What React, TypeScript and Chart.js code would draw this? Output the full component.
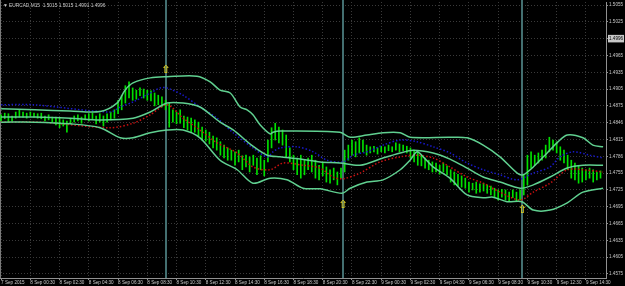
import React, { useEffect, useRef } from 'react';
import { Chart, registerables } from 'chart.js';
Chart.register(...registerables);

const HEADER = '\u25BC EURCAD,M15  1.5015 1.5015 1.4991 1.4996';

const TIME_LABELS = ['7 Sep 2015', '8 Sep 00:30', '8 Sep 02:30', '8 Sep 04:30', '8 Sep 06:30', '8 Sep 08:30', '8 Sep 10:30', '8 Sep 12:30', '8 Sep 14:30', '8 Sep 16:30', '8 Sep 18:30', '8 Sep 20:30', '8 Sep 22:30', '9 Sep 00:30', '9 Sep 02:30', '9 Sep 04:30', '9 Sep 06:30', '9 Sep 08:30', '9 Sep 10:30', '9 Sep 12:30', '9 Sep 14:30'];
const BARS_PER_LABEL = 8;

const PRICE_TICKS = [1.5055, 1.5025, 1.4995, 1.4965, 1.4935, 1.4905, 1.4875, 1.4845, 1.4815, 1.4785, 1.4755, 1.4725, 1.4695, 1.4665, 1.4635, 1.4605, 1.4575];
const PRICE_LABELS = ['1.5055', '1.5025', '1.4996', '1.4965', '1.4935', '1.4905', '1.4875', '1.4846', '1.4815', '1.4786', '1.4755', '1.4725', '1.4695', '1.4665', '1.4635', '1.4605', '1.4575'];
const CURRENT_PRICE_INDEX = 2;
const Y_MIN = 1.45678;
const Y_MAX = 1.50604;
const X_MIN = -0.3;
const X_MAX = 165.5;

const BAR_HIGH = [
  1.4859, 1.4862, 1.4861, 1.4857, 1.4864, 1.4868, 1.4864, 1.4862, 1.4864, 1.4862,
  1.4861, 1.4862, 1.4857, 1.4859, 1.4855, 1.4855, 1.4853, 1.4850, 1.4848, 1.4853,
  1.4857, 1.4859, 1.4855, 1.4859, 1.4861, 1.4862, 1.4857, 1.4861, 1.4857, 1.4861,
  1.4864, 1.4868, 1.4885, 1.4894, 1.4911, 1.4918, 1.4907, 1.4903, 1.4907, 1.4905,
  1.4903, 1.4902, 1.4898, 1.4894, 1.4891, 1.4885, 1.4880, 1.4868, 1.4864, 1.4868,
  1.4857, 1.4855, 1.4853, 1.4850, 1.4846, 1.4837, 1.4832, 1.4828, 1.4821, 1.4818,
  1.4811, 1.4805, 1.4800, 1.4796, 1.4793, 1.4796, 1.4786, 1.4787, 1.4784, 1.4787,
  1.4782, 1.4786, 1.4778, 1.4814, 1.4836, 1.4844, 1.4837, 1.4832, 1.4823, 1.4800,
  1.4787, 1.4782, 1.4787, 1.4778, 1.4782, 1.4787, 1.4778, 1.4769, 1.4773, 1.4766,
  1.4761, 1.4764, 1.4757, 1.4764, 1.4796, 1.4805, 1.4814, 1.4811, 1.4818, 1.4814,
  1.4805, 1.4802, 1.4803, 1.4800, 1.4803, 1.4802, 1.4805, 1.4802, 1.4809, 1.4807,
  1.4805, 1.4803, 1.4800, 1.4796, 1.4793, 1.4787, 1.4782, 1.4778, 1.4775, 1.4773,
  1.4769, 1.4773, 1.4768, 1.4761, 1.4757, 1.4753, 1.4750, 1.4746, 1.4739, 1.4737,
  1.4739, 1.4736, 1.4737, 1.4734, 1.4732, 1.4728, 1.4725, 1.4726, 1.4725, 1.4721,
  1.4725, 1.4721, 1.4725, 1.4752, 1.4787, 1.4793, 1.4787, 1.4791, 1.4796, 1.4805,
  1.4819, 1.4814, 1.4811, 1.4802, 1.4796, 1.4787, 1.4778, 1.4773, 1.4769, 1.4764,
  1.4761, 1.4764, 1.4761, 1.4757, 1.4759
];
const BAR_LOW = [
  1.4848, 1.4852, 1.4846, 1.4848, 1.4853, 1.4855, 1.4855, 1.4853, 1.4857, 1.4855,
  1.4853, 1.4852, 1.4848, 1.4850, 1.4846, 1.4841, 1.4836, 1.4839, 1.4828, 1.4843,
  1.4846, 1.4848, 1.4844, 1.4850, 1.4848, 1.4852, 1.4843, 1.4846, 1.4839, 1.4846,
  1.4850, 1.4853, 1.4861, 1.4868, 1.4880, 1.4889, 1.4885, 1.4887, 1.4893, 1.4889,
  1.4885, 1.4884, 1.4875, 1.4877, 1.4873, 1.4868, 1.4837, 1.4846, 1.4843, 1.4844,
  1.4836, 1.4832, 1.4827, 1.4828, 1.4821, 1.4814, 1.4812, 1.4807, 1.4800, 1.4796,
  1.4787, 1.4782, 1.4778, 1.4778, 1.4769, 1.4775, 1.4761, 1.4766, 1.4757, 1.4769,
  1.4752, 1.4761, 1.4750, 1.4775, 1.4800, 1.4814, 1.4809, 1.4805, 1.4784, 1.4775,
  1.4761, 1.4752, 1.4746, 1.4752, 1.4761, 1.4757, 1.4746, 1.4743, 1.4750, 1.4739,
  1.4737, 1.4743, 1.4734, 1.4746, 1.4757, 1.4778, 1.4787, 1.4784, 1.4791, 1.4793,
  1.4787, 1.4791, 1.4793, 1.4789, 1.4793, 1.4791, 1.4795, 1.4793, 1.4796, 1.4793,
  1.4795, 1.4791, 1.4782, 1.4775, 1.4769, 1.4768, 1.4764, 1.4761, 1.4757, 1.4757,
  1.4753, 1.4757, 1.4752, 1.4739, 1.4734, 1.4732, 1.4730, 1.4728, 1.4721, 1.4725,
  1.4719, 1.4721, 1.4723, 1.4719, 1.4716, 1.4712, 1.4707, 1.4712, 1.4707, 1.4705,
  1.4711, 1.4704, 1.4707, 1.4716, 1.4734, 1.4764, 1.4769, 1.4773, 1.4778, 1.4782,
  1.4793, 1.4796, 1.4791, 1.4778, 1.4773, 1.4761, 1.4746, 1.4743, 1.4737, 1.4739,
  1.4743, 1.4746, 1.4739, 1.4743, 1.4746
];

const UPPER_X = [0, 9.3, 18.9, 27.1, 31.7, 33.9, 36.1, 40.8, 45.4, 53.6, 57.2, 59.9, 62.7, 65.4, 67.3, 68.9, 70.9, 73.6, 74.4, 76.3, 92.7, 95.5, 100.1, 104.5, 109.2, 111.9, 122.8, 127.5, 131.9, 136.5, 141.2, 142.8, 145.6, 149.4, 152.1, 154.9, 159.2, 161.9, 164.7];
const UPPER_Y = [1.4870, 1.4868, 1.4866, 1.4865, 1.4880, 1.4903, 1.4916, 1.4925, 1.4927, 1.4928, 1.4918, 1.4903, 1.4898, 1.4873, 1.4868, 1.4859, 1.4841, 1.4825, 1.4828, 1.4830, 1.4828, 1.4819, 1.4823, 1.4827, 1.4827, 1.4819, 1.4819, 1.4818, 1.4805, 1.4784, 1.4755, 1.4752, 1.4766, 1.4791, 1.4809, 1.4823, 1.4818, 1.4805, 1.4802];

const MID_X = [0, 9.3, 18.9, 27.1, 36.1, 40.8, 45.4, 49.8, 54.4, 59.9, 63.5, 68.9, 72.8, 76.3, 81.8, 87.3, 92.7, 98.2, 104.5, 109.2, 112.7, 118.2, 122.8, 127.5, 131.9, 136.5, 142.0, 145.6, 150.2, 154.9, 159.2, 164.7];
const MID_Y = [1.4855, 1.4855, 1.4853, 1.4850, 1.4853, 1.4864, 1.4880, 1.4880, 1.4873, 1.4846, 1.4832, 1.4803, 1.4787, 1.4784, 1.4780, 1.4775, 1.4773, 1.4769, 1.4782, 1.4791, 1.4796, 1.4791, 1.4780, 1.4764, 1.4748, 1.4739, 1.4728, 1.4734, 1.4748, 1.4764, 1.4769, 1.4769];

const LOWER_X = [0, 9.3, 18.9, 27.1, 32.6, 36.1, 40.8, 45.4, 49.8, 54.4, 59.9, 64.6, 68.9, 73.6, 78.2, 82.6, 87.3, 93.3, 95.5, 100.1, 104.5, 109.2, 111.9, 113.8, 115.5, 118.2, 122.8, 127.5, 131.9, 134.6, 138.4, 142.5, 145.6, 150.2, 154.9, 159.2, 164.7];
const LOWER_Y = [1.4846, 1.4846, 1.4843, 1.4836, 1.4818, 1.4818, 1.4827, 1.4832, 1.4832, 1.4818, 1.4778, 1.4761, 1.4737, 1.4746, 1.4743, 1.4728, 1.4727, 1.4719, 1.4728, 1.4739, 1.4743, 1.4761, 1.4778, 1.4793, 1.4784, 1.4766, 1.4746, 1.4716, 1.4711, 1.4712, 1.4704, 1.4704, 1.4689, 1.4689, 1.4702, 1.4721, 1.4728];

const BLUE_X = [0, 8.8, 29.8, 32.6, 36.1, 40.8, 43.5, 45.4, 49.8, 54.4, 59.1, 63.5, 68.9, 72.8, 74.4, 76.3, 81.0, 85.4, 89.2, 93.6, 96.3, 100.1, 104.5, 109.2, 113.8, 118.2, 122.8, 127.5, 131.9, 136.5, 141.2, 145.6, 150.2, 152.9, 156.5, 161.1, 164.7];
const BLUE_Y = [1.4877, 1.4877, 1.4864, 1.4873, 1.4882, 1.4898, 1.4907, 1.4907, 1.4894, 1.4873, 1.4853, 1.4827, 1.4800, 1.4784, 1.4793, 1.4800, 1.4802, 1.4793, 1.4778, 1.4775, 1.4787, 1.4793, 1.4805, 1.4814, 1.4811, 1.4802, 1.4791, 1.4773, 1.4761, 1.4752, 1.4743, 1.4755, 1.4766, 1.4784, 1.4793, 1.4787, 1.4782];

const RED_X = [0, 10.7, 29.8, 36.1, 40.8, 45.4, 49.8, 54.4, 59.1, 64.6, 68.9, 73.6, 77.2, 82.6, 87.3, 90.8, 93.6, 98.2, 103.7, 109.2, 113.8, 118.2, 122.8, 127.5, 131.9, 136.5, 142.0, 145.6, 150.2, 154.9, 159.2, 164.7];
const RED_Y = [1.4846, 1.4846, 1.4836, 1.4844, 1.4859, 1.4877, 1.4853, 1.4832, 1.4809, 1.4791, 1.4766, 1.4761, 1.4773, 1.4769, 1.4764, 1.4748, 1.4745, 1.4755, 1.4775, 1.4784, 1.4787, 1.4782, 1.4766, 1.4748, 1.4737, 1.4721, 1.4707, 1.4721, 1.4737, 1.4761, 1.4761, 1.4757];

const V_LINES = [45.1, 93.6, 142.5];
const ARROW_X = [45.1, 93.6, 142.6];
const ARROW_Y = [1.4939, 1.4698, 1.4689];

const pts = (xs: number[], ys: number[]) => xs.map((x, i) => ({ x, y: ys[i] }));

const AXIS_FONT = { family: 'Liberation Sans', size: 4.6 };

const overlay = {
  id: 'overlay',
  beforeDraw(chart: any) {
    const { ctx, width, height } = chart;
    ctx.save();
    ctx.fillStyle = '#000';
    ctx.fillRect(0, 0, width, height);
    ctx.restore();
  },
  beforeDatasetsDraw(chart: any) {
    const { ctx, chartArea, scales } = chart;
    ctx.save();
    ctx.strokeStyle = '#436f70';
    ctx.lineWidth = 2;
    V_LINES.forEach((v) => {
      const px = Math.round(scales.x.getPixelForValue(v));
      ctx.beginPath();
      ctx.moveTo(px, 0);
      ctx.lineTo(px, chartArea.bottom);
      ctx.stroke();
    });
    ctx.strokeStyle = '#7a7a7a';
    ctx.lineWidth = 1;
    ctx.beginPath();
    ctx.moveTo(0.5, 0);
    ctx.lineTo(0.5, chartArea.bottom);
    ctx.stroke();
    ctx.restore();
  },
  afterDraw(chart: any) {
    const { ctx, scales } = chart;
    ctx.save();
    ctx.fillStyle = '#c8c8c8';
    ctx.font = '4.8px "Liberation Sans"';
    ctx.textBaseline = 'middle';
    ctx.textAlign = 'left';
    ctx.fillText(HEADER, 3, 6);
    ctx.fillStyle = '#e0d020';
    ctx.font = 'bold 11px "DejaVu Sans"';
    ctx.textAlign = 'center';
    ARROW_X.forEach((x, i) => {
      ctx.fillText('\u21E7', scales.x.getPixelForValue(x), scales.y.getPixelForValue(ARROW_Y[i]));
    });
    ctx.restore();
  },
};

const bandStyle = { borderColor: '#60d090', borderWidth: 1.5, pointRadius: 0, tension: 0.3, fill: false };

export default function App() {
  const ref = useRef<HTMLCanvasElement>(null);
  useEffect(() => {
    document.body.style.margin = '0';
    document.body.style.background = '#000';
    const chart = new Chart(ref.current as HTMLCanvasElement, {
      type: 'bar',
      data: {
        datasets: [
          {
            type: 'bar',
            data: BAR_HIGH.map((h, i) => ({ x: i, y: [BAR_LOW[i], h] })) as any,
            backgroundColor: '#00e000',
            barThickness: 1,
            grouped: false,
            order: 5,
          } as any,
          { type: 'line', data: pts(UPPER_X, UPPER_Y), ...bandStyle, order: 1 } as any,
          { type: 'line', data: pts(MID_X, MID_Y), ...bandStyle, order: 1 } as any,
          { type: 'line', data: pts(LOWER_X, LOWER_Y), ...bandStyle, order: 1 } as any,
          { type: 'line', data: pts(BLUE_X, BLUE_Y), borderColor: '#1818c8', borderWidth: 1.5, borderDash: [1.5, 2], pointRadius: 0, tension: 0.3, fill: false, order: 2 } as any,
          { type: 'line', data: pts(RED_X, RED_Y), borderColor: '#c81010', borderWidth: 1.5, borderDash: [1.5, 2], pointRadius: 0, tension: 0.3, fill: false, order: 2 } as any,
        ],
      },
      options: {
        animation: false,
        responsive: false,
        devicePixelRatio: 1,
        layout: { padding: { left: 0, right: 0, top: 2, bottom: 0 } },
        plugins: { legend: { display: false }, tooltip: { enabled: false } },
        scales: {
          x: {
            type: 'linear',
            offset: false,
            min: X_MIN,
            max: X_MAX,
            afterBuildTicks: (s: any) => {
              s.ticks = TIME_LABELS.map((_, k) => ({ value: k * BARS_PER_LABEL }));
            },
            afterFit: (s: any) => {
              s.height = 8;
              s.paddingLeft = 0;
              s.paddingRight = 0;
            },
            ticks: {
              autoSkip: false,
              maxRotation: 0,
              minRotation: 0,
              align: 'start',
              padding: 0,
              color: '#c8c8c8',
              font: AXIS_FONT,
              callback: (v: any) => TIME_LABELS[Math.round(Number(v) / BARS_PER_LABEL)] ?? '',
            },
            grid: { offset: false, color: '#3a3a3a', tickLength: 2, tickColor: '#909090' },
            border: { display: true, color: '#909090', dash: [1, 2] },
          },
          y: {
            type: 'linear',
            position: 'right',
            min: Y_MIN,
            max: Y_MAX,
            afterBuildTicks: (s: any) => {
              s.ticks = PRICE_TICKS.map((v) => ({ value: v }));
            },
            afterFit: (s: any) => {
              s.width = 19;
              s.paddingTop = 0;
              s.paddingBottom = 0;
            },
            ticks: {
              autoSkip: false,
              padding: 1,
              color: (c: any) => (c.index === CURRENT_PRICE_INDEX ? '#000' : '#c8c8c8'),
              showLabelBackdrop: true,
              backdropColor: (c: any) => (c.index === CURRENT_PRICE_INDEX ? '#c8c8c8' : 'rgba(0,0,0,0)'),
              backdropPadding: 1,
              font: AXIS_FONT,
              callback: (_v: any, i: number) => PRICE_LABELS[i] ?? '',
            },
            grid: { color: '#3a3a3a', tickLength: 2, tickColor: '#909090' },
            border: { display: true, color: '#909090', dash: [1, 2] },
          },
        },
      } as any,
      plugins: [overlay],
    });
    return () => chart.destroy();
  }, []);
  return (
    <div style={{ position: 'absolute', left: 0, top: 0, width: 625, height: 286, background: '#000' }}>
      <canvas ref={ref} width={625} height={286} style={{ display: 'block' }} />
    </div>
  );
}
